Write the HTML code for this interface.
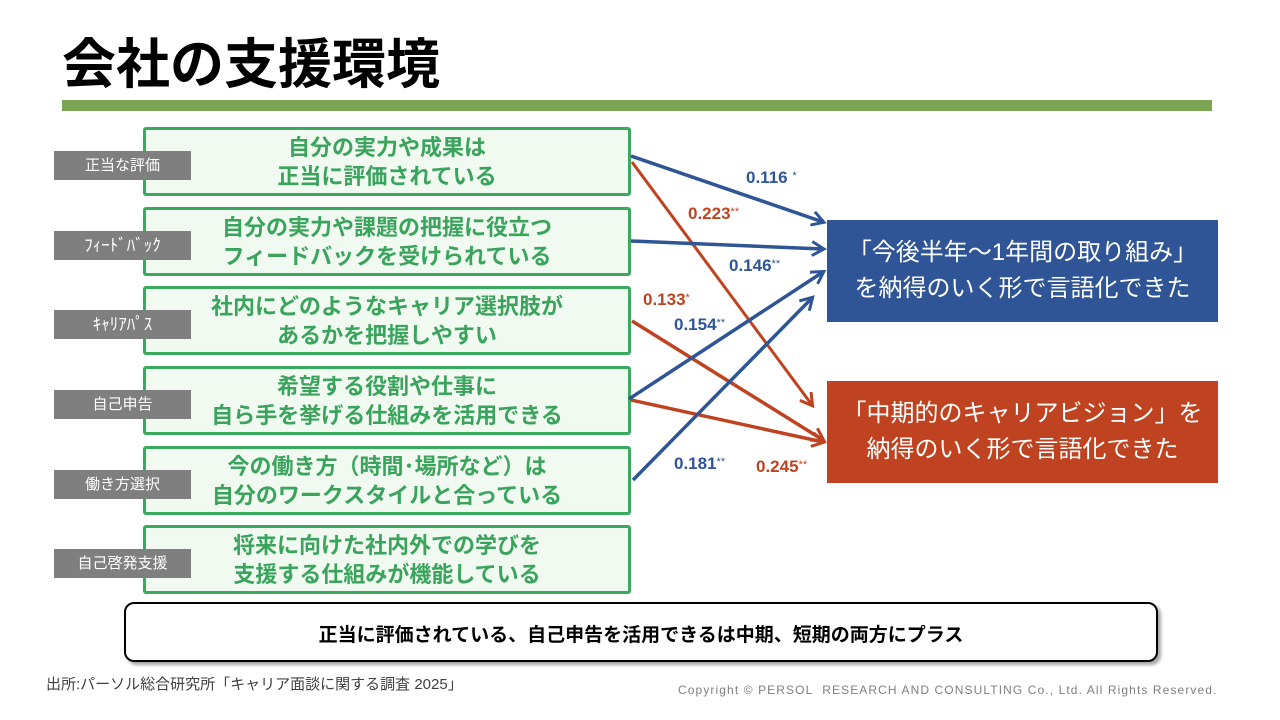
<!DOCTYPE html>
<html><head><meta charset="utf-8"><style>
body{margin:0;width:1280px;height:720px;background:#fff;position:relative;overflow:hidden;font-family:"Liberation Sans","Noto Sans CJK JP",sans-serif}
.a{position:absolute}
.title{left:62px;top:33px;font-size:54px;font-weight:bold;color:#000;line-height:64px}
.bar{left:62px;top:100px;width:1150px;height:11px;background:#7ba453}
.box{position:absolute;left:143px;width:482px;border:3px solid #3aaa5e;border-radius:3px;background:#f0faf0;color:#3aa35c;font-weight:bold;font-size:22px;line-height:29px;text-align:center;display:flex;flex-direction:column;justify-content:center;height:63px}
.lab{position:absolute;left:54px;width:137px;height:29px;background:#7f7f7f;color:#fff;font-size:14px;line-height:29px;text-align:center}
.rb{position:absolute;left:827px;width:391px;height:102px;color:#fff;font-size:24px;line-height:36px;text-align:center;display:flex;flex-direction:column;justify-content:center}
.n{position:absolute;font-weight:bold;font-size:17px}
.n sup{font-size:11px;vertical-align:4px;font-weight:normal}
</style></head><body>
<div class="a title">会社の支援環境</div>
<div class="a bar"></div>

<div class="box" style="top:127px">自分の実力や成果は<br>正当に評価されている</div>
<div class="box" style="top:207px">自分の実力や課題の把握に役立つ<br>フィードバックを受けられている</div>
<div class="box" style="top:286px">社内にどのようなキャリア選択肢が<br>あるかを把握しやすい</div>
<div class="box" style="top:366px">希望する役割や仕事に<br>自ら手を挙げる仕組みを活用できる</div>
<div class="box" style="top:446px">今の働き方（時間･場所など）は<br>自分のワークスタイルと合っている</div>
<div class="box" style="top:525px">将来に向けた社内外での学びを<br>支援する仕組みが機能している</div>

<div class="lab" style="top:151px;font-size:15px">正当な評価</div>
<div class="lab" style="top:231px;font-size:17px">ﾌｨｰﾄﾞﾊﾞｯｸ</div>
<div class="lab" style="top:310px;font-size:17px">ｷｬﾘｱﾊﾟｽ</div>
<div class="lab" style="top:390px;font-size:15px">自己申告</div>
<div class="lab" style="top:470px;font-size:15px">働き方選択</div>
<div class="lab" style="top:549px;font-size:15px">自己啓発支援</div>

<div class="rb" style="top:220px;background:#2f5597">「今後半年～1年間の取り組み」<br>を納得のいく形で言語化できた</div>
<div class="rb" style="top:381px;background:#bf4320">「中期的のキャリアビジョン」を<br>納得のいく形で言語化できた</div>

<svg class="a" style="left:0;top:0" width="1280" height="720">
<defs>
<marker id="mb" markerWidth="16" markerHeight="16" refX="12" refY="8" orient="auto" markerUnits="userSpaceOnUse" viewBox="0 0 16 16"><path d="M1,1 L13,8 L1,15" fill="none" stroke="#2f5597" stroke-width="3"/></marker>
<marker id="mr" markerWidth="16" markerHeight="16" refX="12" refY="8" orient="auto" markerUnits="userSpaceOnUse" viewBox="0 0 16 16"><path d="M1,1 L13,8 L1,15" fill="none" stroke="#bf4320" stroke-width="3"/></marker>
</defs>
<g stroke-width="3.5" fill="none">
<line x1="632" y1="162" x2="812" y2="405" stroke="#bf4320" marker-end="url(#mr)" style="stroke-width:3"/>
<line x1="632" y1="321" x2="823" y2="440" stroke="#bf4320" marker-end="url(#mr)"/>
<line x1="631" y1="400" x2="823" y2="442" stroke="#bf4320" marker-end="url(#mr)"/>
<line x1="631" y1="156" x2="823" y2="222" stroke="#2f5597" marker-end="url(#mb)"/>
<line x1="631" y1="241" x2="823" y2="249" stroke="#2f5597" marker-end="url(#mb)"/>
<line x1="629" y1="399" x2="823" y2="272" stroke="#2f5597" marker-end="url(#mb)"/>
<line x1="633" y1="480" x2="812" y2="298" stroke="#2f5597" marker-end="url(#mb)"/>
</g>
</svg>

<div class="n" style="left:746px;top:168px;color:#2f5597">0.116 <sup>*</sup></div>
<div class="n" style="left:688px;top:204px;color:#bf4320">0.223<sup>**</sup></div>
<div class="n" style="left:729px;top:256px;color:#2f5597">0.146<sup>**</sup></div>
<div class="n" style="left:643px;top:290px;color:#bf4320">0.133<sup>*</sup></div>
<div class="n" style="left:674px;top:315px;color:#2f5597">0.154<sup>**</sup></div>
<div class="n" style="left:674px;top:454px;color:#2f5597">0.181<sup>**</sup></div>
<div class="n" style="left:756px;top:457px;color:#bf4320">0.245<sup>**</sup></div>

<div class="a" style="left:124px;top:602px;width:1030px;height:56px;border:2px solid #000;border-radius:10px;box-shadow:3px 3px 3px rgba(0,0,0,0.35);text-align:center;font-weight:bold;font-size:19px;line-height:64px;background:#fff">正当に評価されている、自己申告を活用できるは中期、短期の両方にプラス</div>

<div class="a" style="left:46px;top:673px;font-size:15px;color:#404040">出所:パーソル総合研究所「キャリア面談に関する調査 2025」</div>
<div class="a" style="left:678px;top:683px;font-size:12px;color:#7f7f7f;letter-spacing:1.1px">Copyright © PERSOL&nbsp; RESEARCH AND CONSULTING Co., Ltd. All Rights Reserved.</div>
</body></html>
